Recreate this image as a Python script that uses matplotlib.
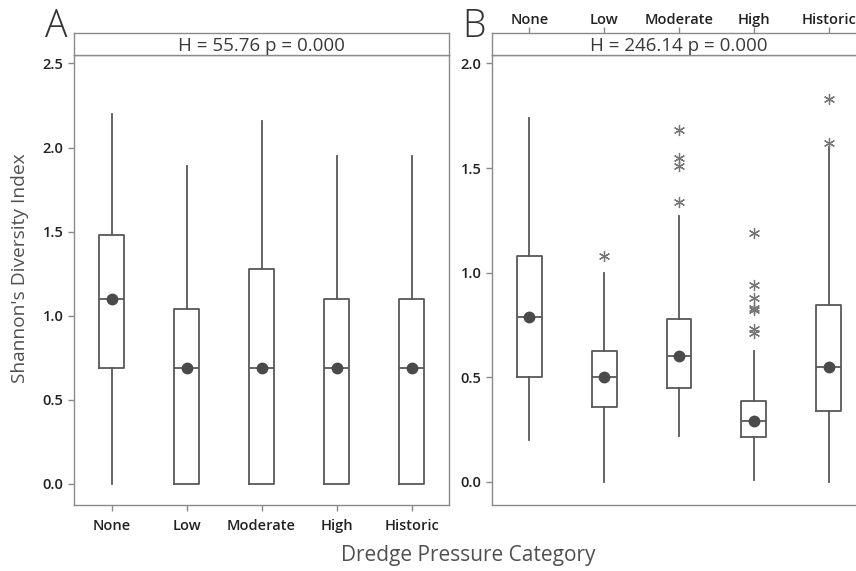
import matplotlib
matplotlib.use("Agg")
import matplotlib.pyplot as plt

plt.rcParams['font.family'] = ['Open Sans', 'DejaVu Sans']

categories = ["None", "Low", "Moderate", "High", "Historic"]

# Panel A
a_whislo = [0.0, 0.0, 0.0, 0.0, 0.0]
a_q1 = [0.69, 0.0, 0.0, 0.0, 0.0]
a_med = [1.10, 0.69, 0.69, 0.69, 0.69]
a_q3 = [1.48, 1.04, 1.28, 1.10, 1.10]
a_whishi = [2.20, 1.89, 2.16, 1.95, 1.95]
a_fliers = [[], [], [], [], []]
a_title = "H = 55.76 p = 0.000"

# Panel B
b_whislo = [0.20, 0.0, 0.22, 0.01, 0.0]
b_q1 = [0.50, 0.36, 0.45, 0.215, 0.34]
b_med = [0.79, 0.50, 0.60, 0.29, 0.55]
b_q3 = [1.08, 0.625, 0.78, 0.385, 0.845]
b_whishi = [1.74, 1.0, 1.27, 0.625, 1.60]
b_fliers = [[], [1.08], [1.68, 1.55, 1.51, 1.34],
            [1.19, 0.94, 0.88, 0.83, 0.82, 0.73, 0.71], [1.83, 1.62]]
b_title = "H = 246.14 p = 0.000"

W, H = 856, 571
fig = plt.figure(figsize=(W / 100, H / 100), dpi=100)

spine_c = "#8a8a8a"
line_c = "#585858"
text_c = "#222222"
tick_fs = 10.5


def fc(x0, y0, x1, y1):
    return [x0 / W, 1 - y1 / H, (x1 - x0) / W, (y1 - y0) / H]


def panel(x0, x1, stats_arrays, title, ylim, yticks, top_labels, letter):
    whislo, q1, med, q3, whishi, fliers = stats_arrays
    ax = fig.add_axes(fc(x0, 55, x1, 505))
    hd = fig.add_axes(fc(x0, 33, x1, 55))
    stats = []
    for i in range(len(categories)):
        stats.append(dict(med=med[i], q1=q1[i], q3=q3[i], whislo=whislo[i],
                          whishi=whishi[i], fliers=fliers[i], label=categories[i]))
    pos = list(range(1, len(categories) + 1))
    ax.bxp(stats, positions=pos, widths=0.33, showcaps=False, showfliers=True,
           boxprops=dict(color=line_c, linewidth=1.3),
           whiskerprops=dict(color=line_c, linewidth=1.3),
           medianprops=dict(color=line_c, linewidth=1.3),
           flierprops=dict(marker=(6, 2, 0), markersize=8, markeredgecolor="#767676",
                           markerfacecolor="#767676", markeredgewidth=0.9,
                           linestyle="none"))
    ax.plot(pos, med, linestyle="none", marker="o", markersize=7.5,
            color="#4a4a4a", zorder=5)
    ax.set_xlim(0.5, 5.5)
    ax.set_ylim(*ylim)
    ax.set_yticks(yticks)
    ax.set_yticklabels([f"{v:.1f}" for v in yticks], fontweight="semibold")
    for sp in ax.spines.values():
        sp.set_color(spine_c)
        sp.set_linewidth(1.0)
    ax.tick_params(axis="both", colors=spine_c, labelcolor=text_c,
                   labelsize=tick_fs, length=4, width=1.0, direction="out")
    ax.set_xticks(pos)
    if top_labels:
        ax.tick_params(axis="x", bottom=False, labelbottom=False)
    else:
        ax.set_xticklabels(categories, fontweight="semibold")
        ax.tick_params(axis="x", pad=6)

    hd.set_xlim(0.5, 5.5)
    hd.set_ylim(0, 1)
    hd.set_yticks([])
    for sp in hd.spines.values():
        sp.set_color(spine_c)
        sp.set_linewidth(1.0)
    if top_labels:
        hd.set_xticks(pos)
        hd.set_xticklabels(categories, fontweight="semibold")
        hd.tick_params(axis="x", top=True, labeltop=True, bottom=False,
                       labelbottom=False, colors=spine_c, labelcolor=text_c,
                       labelsize=tick_fs, length=4, width=1.0, pad=0)
    else:
        hd.set_xticks([])
    hd.text(0.5, 0.42, title, transform=hd.transAxes, ha="center", va="center",
            fontsize=13.5, color="#3a3a3a")
    fig.text((x0 - 18) / W, 1 - 37 / H, letter, ha="center", va="baseline",
             fontsize=27, color="#333333", fontweight="light")
    return ax


ax_a = panel(74, 449, (a_whislo, a_q1, a_med, a_q3, a_whishi, a_fliers), a_title,
             (-0.125, 2.55), [0.0, 0.5, 1.0, 1.5, 2.0, 2.5], False, "A")
ax_b = panel(492, 866, (b_whislo, b_q1, b_med, b_q3, b_whishi, b_fliers), b_title,
             (-0.11, 2.04), [0.0, 0.5, 1.0, 1.5, 2.0], True, "B")

fig.text(20 / W, 1 - 268 / H, "Shannon's Diversity Index", rotation=90,
         ha="center", va="center", fontsize=13.8, color="#505050")
fig.text(468 / W, 1 - 556 / H, "Dredge Pressure Category", ha="center",
         va="center", fontsize=15, color="#505050")

fig.savefig("out.png", dpi=100)
